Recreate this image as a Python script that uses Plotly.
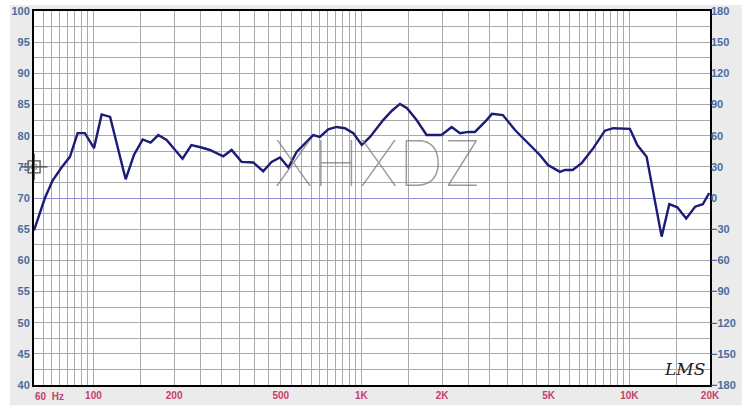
import numpy as np
import plotly.graph_objects as go

# frequency response
freq_hz = [60, 65.9, 70.4, 76, 81.7, 87.3, 92.9, 100.5, 107.3, 115.4, 131.9, 141.6,
           152.7, 163.4, 174.5, 187.5, 215, 232, 253, 272, 305, 328, 357, 395, 430,
           462, 497, 534, 573, 621, 661, 700, 752, 808, 868, 933, 1003, 1077, 1206,
           1300, 1393, 1480, 1607, 1751, 1991, 2172, 2333, 2506, 2653, 2933, 3070,
           3373, 3743, 4634, 4970, 5510, 5750, 6142, 6640, 7336, 8106, 8707, 10050,
           10710, 11600, 13200, 14100, 15100, 16300, 17600, 18800, 19860]
spl_db = [64.8, 70.0, 72.8, 74.9, 76.6, 80.4, 80.4, 78.0, 83.4, 83.0, 73.0, 76.9,
          79.4, 78.9, 80.1, 79.3, 76.3, 78.5, 78.1, 77.7, 76.7, 77.7, 75.8, 75.7, 74.3,
          75.8, 76.5, 74.9, 77.4, 79.0, 80.1, 79.8, 81.0, 81.4, 81.2, 80.4, 78.5, 79.8, 82.5,
          84.0, 85.1, 84.4, 82.5, 80.1, 80.1, 81.4, 80.4, 80.6, 80.6, 82.5, 83.5,
          83.3, 80.9, 76.9, 75.3, 74.2, 74.5, 74.5, 75.6, 78.0, 80.8, 81.2, 81.1,
          78.5, 76.6, 63.8, 69.0, 68.5, 66.7, 68.6, 69.0, 70.8]

# cursor marker on the left edge (just inside the range so it is not hidden)
cursor_hz = [60.05]
cursor_db = [75]

x_tickvals = [100, 200, 500, 1000, 2000, 5000, 10000, 20000]
x_ticktext = ['100', '200', '500', '1K', '2K', '5K', '10K', '20K']
grid_hz = ([65, 70, 75, 80, 85, 90, 95, 150] + list(range(250, 1000, 50))
           + [1500] + list(range(2500, 10000, 500)) + [15000])
y_ticks = list(range(40, 101, 5))
phase_ticks = list(range(-180, 181, 30))

BLUE = '#4a6c9e'
RED = '#c6406c'
GRID = '#a9a9a9'
LABEL_FONT = 'Liberation Sans, Arial'

fig = go.Figure()

# phase axis only (no data), carries the blue 0 line
fig.add_trace(go.Scatter(
    x=[1000], y=[0], yaxis='y2', mode='markers', marker=dict(opacity=0),
    hoverinfo='skip', showlegend=False
))

fig.add_trace(go.Scatter(
    x=freq_hz, y=spl_db, mode='lines',
    line=dict(color='#1c1c78', width=2.4),
    hoverinfo='skip', showlegend=False
))

fig.add_trace(go.Scatter(
    x=cursor_hz, y=cursor_db, mode='markers', cliponaxis=False,
    marker=dict(symbol='cross-thin-open', size=19, color='#444',
                line=dict(color='#444', width=1.3)),
    hoverinfo='skip', showlegend=False
))
fig.add_trace(go.Scatter(
    x=cursor_hz, y=cursor_db, mode='markers', cliponaxis=False,
    marker=dict(symbol='square-open', size=12, color='#555',
                line=dict(color='#555', width=1.3)),
    hoverinfo='skip', showlegend=False
))
fig.add_trace(go.Scatter(
    x=cursor_hz, y=cursor_db, mode='markers', cliponaxis=False,
    marker=dict(symbol='circle-open', size=6, color='#777',
                line=dict(color='#777', width=1)),
    hoverinfo='skip', showlegend=False
))

fig.update_layout(
    width=750, height=415,
    margin=dict(l=34, r=40, t=11, b=30, autoexpand=False),
    paper_bgcolor='white',
    plot_bgcolor='white',
    xaxis=dict(
        type='log', range=[np.log10(60), np.log10(20000)], automargin=False,
        tickvals=x_tickvals, ticktext=x_ticktext, ticks='',
        tickfont=dict(family=LABEL_FONT, size=10, color=RED, weight='bold'),
        showgrid=True, gridcolor=GRID, gridwidth=1,
        minor=dict(tickvals=grid_hz, showgrid=True, gridcolor=GRID, gridwidth=1, ticks=''),
        showline=True, linecolor='black', linewidth=2, mirror=True,
        zeroline=False, fixedrange=True
    ),
    yaxis=dict(
        range=[40, 100], tickvals=y_ticks, ticks='', automargin=False,
        tickfont=dict(family=LABEL_FONT, size=11, color=BLUE, weight='bold'),
        showgrid=True, gridcolor=GRID, gridwidth=1,
        minor=dict(dtick=2.5, showgrid=True, gridcolor=GRID, gridwidth=1, ticks=''),
        showline=True, linecolor='black', linewidth=2, mirror=True,
        zeroline=False, fixedrange=True
    ),
    yaxis2=dict(
        overlaying='y', side='right', range=[-180, 180], tickvals=phase_ticks, ticks='',
        automargin=False,
        tickfont=dict(family=LABEL_FONT, size=11, color=BLUE, weight='bold'),
        showgrid=False, zeroline=True, zerolinecolor='#9090d8', zerolinewidth=1,
        fixedrange=True
    ),
    shapes=[
        # light grey panel behind everything, white plot area on top of it
        dict(type='rect', xref='paper', yref='paper', layer='below',
             x0=-0.0355, x1=1.047, y0=-0.054, y1=1.016,
             fillcolor='#ebebeb', line=dict(width=0)),
        dict(type='rect', xref='paper', yref='paper', layer='below',
             x0=0, x1=1, y0=0, y1=1, fillcolor='white', line=dict(width=0)),
    ],
    annotations=[
        dict(x=np.log10(60), y=0, xref='x', yref='paper', yshift=-4,
             text='60  Hz', showarrow=False, xanchor='left', yanchor='top', xshift=-1,
             font=dict(family=LABEL_FONT, size=10, color=RED, weight='bold')),
        dict(x=0.509, y=0.594, xref='paper', yref='paper', text='XHXDZ', showarrow=False,
             font=dict(family='Inter, Liberation Sans Narrow, DejaVu Sans',
                       size=63, color='rgba(120,120,120,0.75)', weight=100)),
        dict(x=0.996, y=0.012, xref='paper', yref='paper', text='LMS', showarrow=False,
             xanchor='right', yanchor='bottom',
             font=dict(family='DejaVu Serif', size=17, color='#222', style='italic')),
    ]
)

fig.write_html("out.html", config={'displayModeBar': False},
               post_script="document.body.style.margin='0';")
